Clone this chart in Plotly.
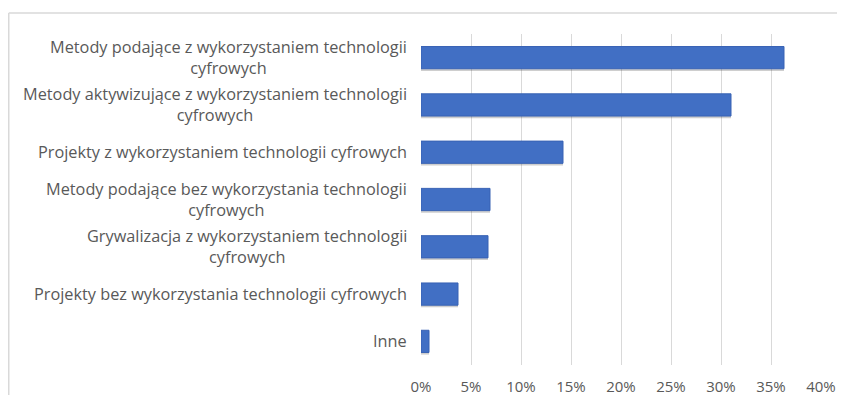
import plotly.graph_objects as go

categories = [
    "Metody podające z wykorzystaniem technologii<br>cyfrowych",
    "Metody aktywizujące z wykorzystaniem technologii<br>cyfrowych",
    "Projekty z wykorzystaniem technologii cyfrowych",
    "Metody podające bez wykorzystania technologii<br>cyfrowych",
    "Grywalizacja z wykorzystaniem technologii<br>cyfrowych",
    "Projekty bez wykorzystania technologii cyfrowych",
    "Inne",
]
values = [0.363, 0.310, 0.142, 0.069, 0.067, 0.037, 0.008]
tick_vals = [0, 0.05, 0.10, 0.15, 0.20, 0.25, 0.30, 0.35, 0.40]
tick_text = ["0%", "5%", "10%", "15%", "20%", "25%", "30%", "35%", "40%"]

# page has an 8px body margin; figure is sized to fit the 845x403 window
W, H = 829, 387
ML, MR, MT, MB = 413, 16, 26, 30
FONT = "Open Sans"
TXT = "#595959"

fig = go.Figure()
# soft shadow below the bars
fig.add_trace(go.Bar(
    y=categories, x=values, orientation="h",
    marker=dict(color="rgba(60,60,60,0.25)", line=dict(width=0)),
    width=0.47, offset=-0.19, hoverinfo="skip", showlegend=False,
))
fig.add_trace(go.Bar(
    y=categories, x=values, orientation="h",
    marker=dict(color="#416fc4", line=dict(color="#3862b4", width=1)),
    width=0.47, offset=-0.235, showlegend=False,
))

for c in categories:
    fig.add_annotation(
        x=0, xref="paper", y=c, yref="y", text=c, showarrow=False,
        xanchor="right", yanchor="middle", align="center", xshift=-12,
        font=dict(family=FONT, size=16.3, color=TXT),
    )

pw = W - ML - MR
ph = H - MT - MB
x0 = (0.75 - ML) / pw
y1 = (H - MB - 5) / ph
fig.add_shape(type="line", xref="paper", yref="paper", x0=x0, x1=(W - ML) / pw + 0.1,
              y0=y1, y1=y1, line=dict(color="#d9d9d9", width=1.5))
fig.add_shape(type="line", xref="paper", yref="paper", x0=x0, x1=x0,
              y0=y1, y1=-MB / ph - 0.1, line=dict(color="#d9d9d9", width=1.5))

fig.update_layout(
    width=W, height=H,
    margin=dict(l=ML, r=MR, t=MT, b=MB, autoexpand=False),
    paper_bgcolor="white", plot_bgcolor="white",
    barmode="overlay",
    font=dict(family=FONT, size=15, color=TXT),
    xaxis=dict(
        range=[0, 0.40], tickvals=tick_vals, ticktext=tick_text,
        showgrid=True, gridcolor="#d9d9d9", gridwidth=1,
        zeroline=False, showline=False, ticks="",
        ticklabelstandoff=11, automargin=False,
        tickfont=dict(family=FONT, size=15, color=TXT),
    ),
    yaxis=dict(
        categoryorder="array", categoryarray=categories,
        autorange="reversed", showticklabels=False, automargin=False,
        showgrid=False, zeroline=False, showline=False, ticks="",
    ),
)

fig.write_html("out.html")
